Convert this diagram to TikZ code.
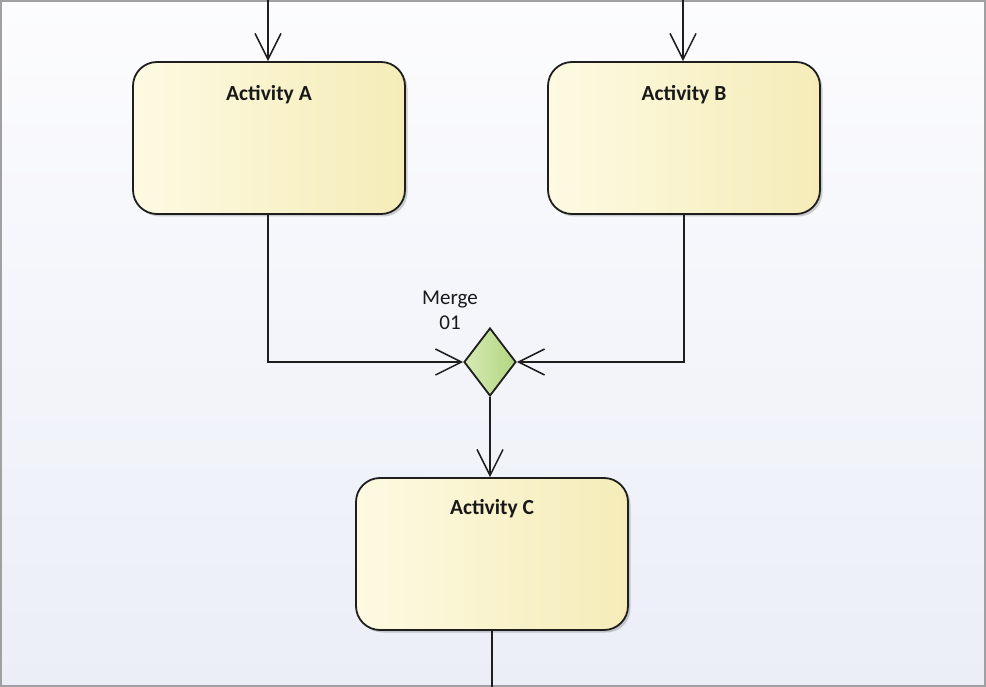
\documentclass[tikz,border=0pt]{standalone}
\usepackage{fontspec}
\setmainfont{Carlito}
\usetikzlibrary{arrows.meta,shapes.geometric,shadows}
\definecolor{actL}{RGB}{253,250,226}
\definecolor{actR}{RGB}{245,236,184}
\definecolor{mrgL}{RGB}{214,234,180}
\definecolor{mrgR}{RGB}{178,214,128}
\definecolor{bgT}{RGB}{252,252,254}
\definecolor{bgB}{RGB}{235,238,247}
\definecolor{frame}{RGB}{160,160,160}
\definecolor{ink}{RGB}{30,30,30}
\begin{document}
\begin{tikzpicture}[x=1pt,y=-1pt,
  act/.style={draw=ink, line width=1.8pt, rounded corners=24pt,
    minimum width=272pt, minimum height=152pt, inner sep=0pt,
    left color=actL, right color=actR,
    drop shadow={shadow xshift=2.5pt, shadow yshift=-2.5pt, opacity=0.18, fill=black}},
  mrg/.style={diamond, draw=ink, line width=1.8pt, minimum width=52pt, minimum height=68pt,
    inner sep=0pt, left color=mrgL, right color=mrgR},
  lbl/.style={font=\fontsize{21.5}{24}\selectfont\bfseries, text=black!90},
  mlbl/.style={font=\fontsize{21}{25}\selectfont, text=black!90, align=center},
  conn/.style={draw=ink, line width=1.5pt, -{Straight Barb[length=26pt,width=26pt,line width=1.5pt]}},
  plain/.style={draw=ink, line width=1.5pt}]
\useasboundingbox (0,0) rectangle (986,687);
\fill[top color=bgT, bottom color=bgB] (0,0) rectangle (986,687);
\draw[frame, line width=2pt] (1,1) rectangle (985,686);

\node[act] (a) at (269,138) {};
\node[lbl] (al) at (269,95) {Activity A};
\node[act] (b) at (684,138) {};
\node[lbl] (bl) at (684,95) {Activity B};
\node[act] (c) at (492,554) {};
\node[lbl] (cl) at (492,509) {Activity C};
\node[mrg] (m) at (490,362) {};
\node[mlbl] (ml) at (450,310) {Merge\\01};

\coordinate (ta) at (268,0);
\coordinate (tb) at (683,0);
\coordinate (bc) at (492,687);

\draw[conn] (ta) -- (ta |- a.north);
\draw[conn] (tb) -- (tb |- b.north);
\draw[conn] (a.south -| ta) |- (m.west);
\draw[conn] (b.south) |- (m.east);
\draw[conn] (m.south) -- (c.north -| m.south);
\draw[plain] (c.south) -- (bc);
\end{tikzpicture}
\end{document}
